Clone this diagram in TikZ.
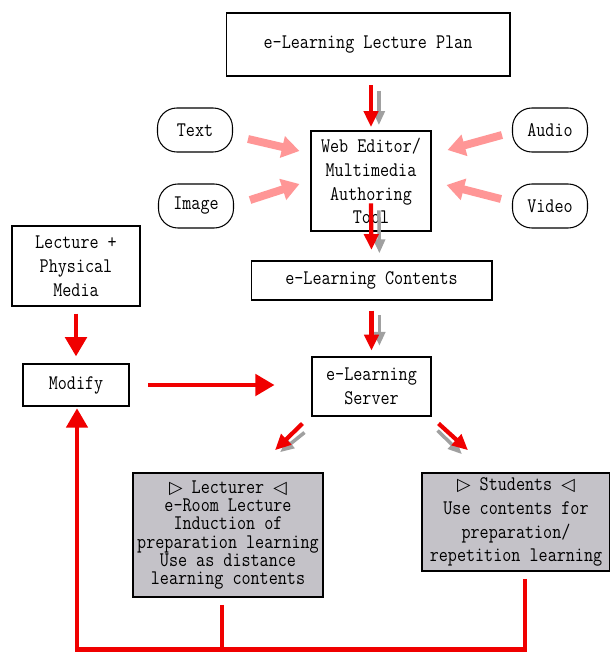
\documentclass[tikz,border=0pt]{standalone}
\usepackage{fontspec}
\setmainfont[FakeStretch=0.85]{Latin Modern Mono}
\newfontfamily\symbolfont{DejaVu Sans}
\usetikzlibrary{arrows.meta, positioning, calc}
\definecolor{flowRed}{RGB}{240, 0, 0}
\definecolor{shadowGray}{RGB}{160, 160, 160}
\definecolor{mediaPink}{RGB}{255, 150, 150}
\definecolor{roleGray}{RGB}{196, 194, 200}
\newcommand{\rtri}{{\symbolfont\fontsize{10}{10}\selectfont ▷}}
\newcommand{\ltri}{{\symbolfont\fontsize{10}{10}\selectfont ◁}}

\begin{document}
\begin{tikzpicture}[x=0.02cm, y=-0.02cm,
    every node/.style={font=\fontsize{11.8}{13.6}\selectfont},
    stepbox/.style={draw, line width=0.6pt, align=center, inner sep=1pt},
    mediapill/.style={draw, line width=0.6pt, rounded corners=11pt, minimum width=1.5cm, minimum height=0.88cm, inner sep=1pt},
    rolebox/.style={stepbox, fill=roleGray, line width=0.9pt},
    flow/.style={draw=flowRed, line width=2.4pt, -{Triangle[length=9pt, width=8pt]}},
    flowshadow/.style={draw=shadowGray, line width=2pt, -{Triangle[length=8pt, width=6.5pt]}},
    bigflow/.style={draw=flowRed, line width=2.8pt, -{Triangle[length=11pt, width=12pt]}},
    media/.style={draw=mediaPink, line width=4.5pt, -{Triangle[length=10pt, width=12pt]}},
    feedback/.style={draw=flowRed, line width=2.4pt}]
    \useasboundingbox (0,0) rectangle (609,652);

    % top of the chain
    \node[stepbox, minimum width=5.68cm, minimum height=1.26cm] (plan) at (368,44.5) {e-Learning Lecture Plan};
    \node[stepbox, minimum width=2.4cm, minimum height=2cm] (editor) at (371,181) {Web Editor/\\Multimedia\\Authoring\\Tool};

    % media sources
    \node[mediapill] (text) at (195,130) {Text};
    \node[mediapill] (image) at (196,206) {Image};
    \node[mediapill] (audio) at (550,130) {Audio};
    \node[mediapill] (video) at (550,206) {Video};

    \node[stepbox, minimum width=4.82cm, minimum height=0.78cm] (contents) at (371.5,280.5) {e-Learning Contents};
    \node[stepbox, minimum width=2.38cm, minimum height=1.18cm] (server) at (371.5,386.5) {e-Learning\\Server};

    % left side
    \node[stepbox, minimum width=2.56cm, minimum height=1.6cm] (lecture) at (76,266) {Lecture +\\Physical\\Media};
    \node[stepbox, minimum width=2.12cm, minimum height=0.84cm] (modify) at (76,385) {Modify};

    % users
    \node[rolebox, minimum width=3.8cm, minimum height=2.48cm] (lecturer) at (228,535)
        {\rtri{} Lecturer \ltri\\[-3.2pt]e-Room Lecture\\[-3.2pt]Induction of\\[-3.2pt]preparation learning\\[-3.2pt]Use as distance\\[-3.2pt]learning contents};
    \node[rolebox, minimum width=3.76cm, minimum height=1.96cm] (students) at (516,522)
        {\rtri{} Students \ltri\\Use contents for\\preparation/\\repetition learning};

    % media into the editor
    \draw[media] ($(text.east)+(15,9)$) -- ($(editor.west)+(-11,-30)$);
    \draw[media] ($(image.east)+(16,-6)$) -- ($(editor.west)+(-11,3)$);
    \draw[media] ($(audio.west)+(-10,5)$) -- ($(editor.east)+(16,-31)$);
    \draw[media] ($(video.west)+(-11,-7)$) -- ($(editor.east)+(15,4)$);

    % main chain, shadow first
    \draw[flowshadow] ([xshift=4.5pt, yshift=-8pt]plan.south -| editor.north) -- ([xshift=4.5pt, yshift=3pt]editor.north);
    \draw[flow] ([yshift=-5pt]plan.south -| editor.north) -- ([yshift=2pt]editor.north);
    \draw[flowshadow] ([xshift=4.5pt, yshift=12pt]editor.south) -- ([xshift=4.5pt, yshift=4pt]contents.north);
    \draw[flow] ([yshift=16pt]editor.south) -- ([yshift=6pt]contents.north);
    \draw[flowshadow] ([xshift=4.5pt, yshift=-8.5pt]contents.south) -- ([xshift=4.5pt, yshift=6pt]server.north);
    \draw[flow] ([yshift=-5.7pt]contents.south) -- ([yshift=3.4pt]server.north);

    \draw[flowshadow] ($(server.south west)+(-7,16)$) -- ($(lecturer.north)+(52,-20)$);
    \draw[flow] ($(server.south west)+(-9,7)$) -- ($(lecturer.north)+(47,-22)$);
    \draw[flowshadow] ($(server.south east)+(6,14)$) -- ($(students.north)+(-54,-18)$);
    \draw[flow] ($(server.south east)+(7,7)$) -- ($(students.north)+(-48,-22)$);

    \draw[bigflow] ([yshift=-4pt]lecture.south) -- ([yshift=4pt]modify.north);
    \draw[bigflow] ([xshift=10.8pt]modify.east) -- ([xshift=-21pt]modify.east -| server.west);

    % feedback loop
    \coordinate (loop) at (77,649.5);
    \draw[feedback] ([xshift=-3.4pt, yshift=-4pt]lecturer.south) -- ([xshift=-3.4pt]lecturer.south |- loop);
    \draw[bigflow, line width=2.4pt] ([xshift=5pt, yshift=-4pt]students.south) |- (loop) -- ([yshift=-1pt]loop |- modify.south);
\end{tikzpicture}
\end{document}
